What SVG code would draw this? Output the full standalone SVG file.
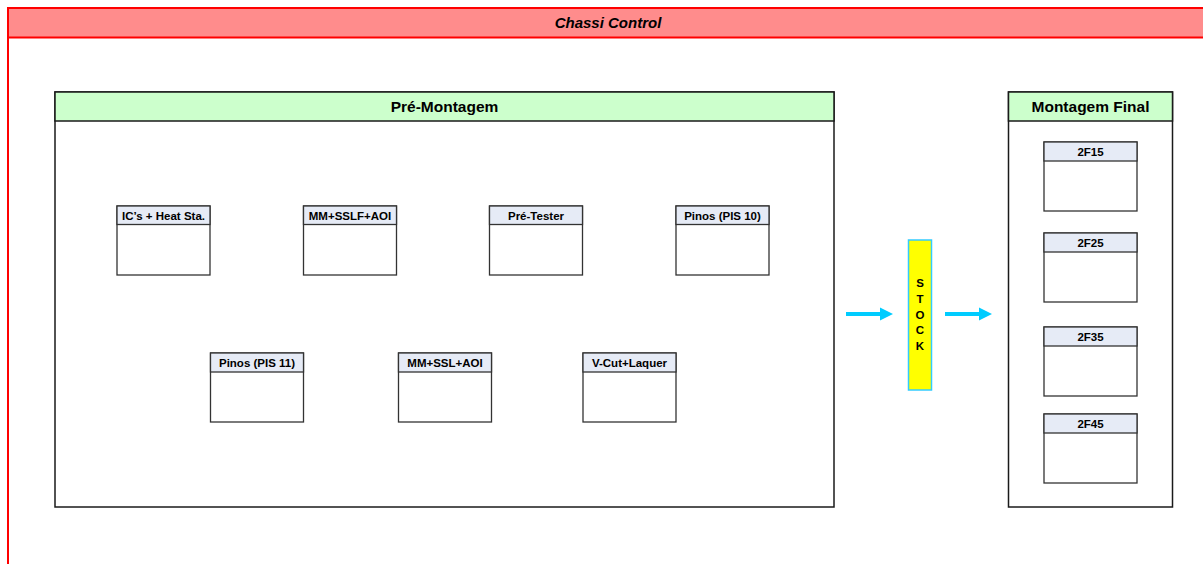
<svg xmlns="http://www.w3.org/2000/svg" width="1203" height="564" viewBox="0 0 1203 564">
  <defs>
    <style>
      text { font-family: "Liberation Sans", Arial, sans-serif; font-weight: bold; fill: #000; text-anchor: middle; }
      .title { font-size: 15px; font-style: italic; }
      .grp-title { font-size: 15.5px; }
      .lbl { font-size: 11.5px; }
      .stock-txt { font-size: 11.5px; }
      .frame { fill: none; stroke: #FF0000; stroke-width: 2; }
      .bar { fill: #FF8C8C; stroke: #FF0000; stroke-width: 2; }
      .group { fill: #FFFFFF; stroke: #1A1A1A; stroke-width: 1.5; }
      .group-head { fill: #CCFFCC; stroke: #1A1A1A; stroke-width: 1.5; }
      .box { fill: #FFFFFF; stroke: #333333; stroke-width: 1.3; }
      .box-head { fill: #E6EBF6; stroke: #333333; stroke-width: 1.3; }
      .flow { stroke: #00CCFF; stroke-width: 4; fill: none; }
      .head { fill: #00CCFF; }
    </style>
  </defs>

  <rect width="1203" height="564" fill="#FFFFFF"/>

  <!-- outer swimlane -->
  <g id="chassi-control">
    <rect class="frame" x="8" y="8" width="1220" height="600"/>
    <rect class="bar" x="8" y="8" width="1220" height="29.5"/>
    <text class="title" x="608" y="28">Chassi Control</text>
  </g>

  <!-- Pré-Montagem group -->
  <g id="pre-montagem">
    <rect class="group" x="55" y="92" width="779" height="415"/>
    <rect class="group-head" x="55" y="92" width="779" height="29"/>
    <text class="grp-title" x="444.5" y="112">Pré-Montagem</text>
  </g>

  <g id="ics-heat">
    <rect class="box" x="117" y="206" width="93" height="69"/>
    <rect class="box-head" x="117" y="206" width="93" height="18.5"/>
    <text class="lbl" x="163.5" y="219.5">IC’s + Heat Sta.</text>
  </g>
  <g id="mm-sslf-aoi">
    <rect class="box" x="303.5" y="206" width="93" height="69"/>
    <rect class="box-head" x="303.5" y="206" width="93" height="18.5"/>
    <text class="lbl" x="350" y="219.5">MM+SSLF+AOI</text>
  </g>
  <g id="pre-tester">
    <rect class="box" x="489.5" y="206" width="93" height="69"/>
    <rect class="box-head" x="489.5" y="206" width="93" height="18.5"/>
    <text class="lbl" x="536" y="219.5">Pré-Tester</text>
  </g>
  <g id="pinos-pis10">
    <rect class="box" x="676" y="206" width="93" height="69"/>
    <rect class="box-head" x="676" y="206" width="93" height="18.5"/>
    <text class="lbl" x="722.5" y="219.5">Pinos (PIS 10)</text>
  </g>
  <g id="pinos-pis11">
    <rect class="box" x="210.5" y="353" width="93" height="69"/>
    <rect class="box-head" x="210.5" y="353" width="93" height="19"/>
    <text class="lbl" x="257" y="366.5">Pinos (PIS 11)</text>
  </g>
  <g id="mm-ssl-aoi">
    <rect class="box" x="398.5" y="353" width="93" height="69"/>
    <rect class="box-head" x="398.5" y="353" width="93" height="19"/>
    <text class="lbl" x="445" y="366.5">MM+SSL+AOI</text>
  </g>
  <g id="vcut-laquer">
    <rect class="box" x="583" y="353" width="93" height="69"/>
    <rect class="box-head" x="583" y="353" width="93" height="19"/>
    <text class="lbl" x="629.5" y="366.5">V-Cut+Laquer</text>
  </g>

  <!-- stock buffer -->
  <g id="stock">
    <rect x="908.5" y="240" width="23" height="150" fill="#FFFF00" stroke="#33CCFF" stroke-width="1.5"/>
    <text class="stock-txt" x="920" y="287">S</text>
    <text class="stock-txt" x="920" y="302.5">T</text>
    <text class="stock-txt" x="920" y="318.5">O</text>
    <text class="stock-txt" x="920" y="334">C</text>
    <text class="stock-txt" x="920" y="350">K</text>
  </g>

  <!-- Montagem Final group -->
  <g id="montagem-final">
    <rect class="group" x="1008.5" y="92" width="164" height="415"/>
    <rect class="group-head" x="1008.5" y="92" width="164" height="29"/>
    <text class="grp-title" x="1090.5" y="112">Montagem Final</text>
  </g>
  <g id="f2f15">
    <rect class="box" x="1044" y="142" width="93" height="69"/>
    <rect class="box-head" x="1044" y="142" width="93" height="19"/>
    <text class="lbl" x="1090.5" y="155.5">2F15</text>
  </g>
  <g id="f2f25">
    <rect class="box" x="1044" y="233" width="93" height="69"/>
    <rect class="box-head" x="1044" y="233" width="93" height="19"/>
    <text class="lbl" x="1090.5" y="246.5">2F25</text>
  </g>
  <g id="f2f35">
    <rect class="box" x="1044" y="327" width="93" height="69"/>
    <rect class="box-head" x="1044" y="327" width="93" height="19"/>
    <text class="lbl" x="1090.5" y="340.5">2F35</text>
  </g>
  <g id="f2f45">
    <rect class="box" x="1044" y="414" width="93" height="69"/>
    <rect class="box-head" x="1044" y="414" width="93" height="19"/>
    <text class="lbl" x="1090.5" y="427.5">2F45</text>
  </g>

  <!-- flow arrows -->
  <g id="connectors">
    <line class="flow" x1="846" y1="314" x2="881" y2="314"/>
    <polygon class="head" points="880,307.5 893,314 880,320.5"/>
    <line class="flow" x1="945" y1="314" x2="980" y2="314"/>
    <polygon class="head" points="979,307.5 992,314 979,320.5"/>
  </g>
</svg>
